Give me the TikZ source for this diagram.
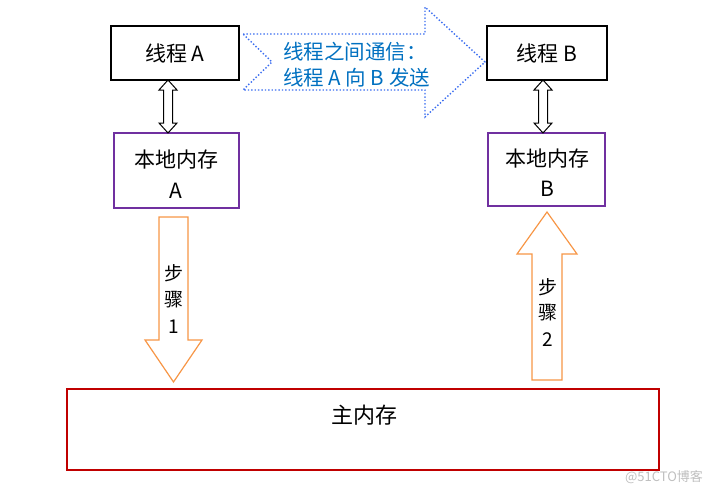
\documentclass[tikz,border=0pt]{standalone}
\usepackage{fontspec}
\setmainfont{Noto Sans CJK SC}
\newfontfamily\cjk{Noto Sans CJK SC}
\definecolor{boxpurple}{RGB}{112,48,160}
\definecolor{boxred}{RGB}{192,0,0}
\definecolor{arrorange}{RGB}{247,150,70}
\definecolor{txtblue}{RGB}{0,112,192}
\definecolor{dotblue}{RGB}{60,110,240}
\begin{document}
\begin{tikzpicture}[x=1pt,y=-1pt,
  threadbox/.style={draw=black,line width=1.2pt},
  localbox/.style={draw=boxpurple,line width=1.2pt},
  mainbox/.style={draw=boxred,line width=1.2pt},
  dblarrow/.style={draw=black,line width=1pt,fill=white},
  steparrow/.style={draw=arrorange,line width=1.2pt,fill=white},
  lbl/.style={font=\cjk\fontsize{21}{24}\selectfont,inner sep=0pt},
  bluelbl/.style={font=\cjk\fontsize{20.5}{24}\selectfont,inner sep=0pt,text=txtblue,anchor=west},
  steplbl/.style={font=\cjk\fontsize{19}{21}\selectfont,inner sep=0pt}]
\useasboundingbox (0,0) rectangle (723,495);

% boxes
\draw[threadbox] (111,26) rectangle (239,80);
\node[lbl] (tA) at (175,53) {线程 A};
\draw[threadbox] (487,26) rectangle (607,80);
\node[lbl] (tB) at (547,53) {线程 B};

\draw[localbox] (114,133) rectangle (239,208);
\node[lbl] (lA1) at (176,160) {本地内存};
\node[lbl] (lA2) at (176,191) {A};
\draw[localbox] (488,133) rectangle (605,206);
\node[lbl] (lB1) at (547,159) {本地内存};
\node[lbl] (lB2) at (547,189) {B};

\draw[mainbox] (67,389) rectangle (659,470);
\node[font=\cjk\fontsize{22}{24}\selectfont,inner sep=0pt] (mm) at (364,415) {主内存};

% double arrows
\foreach \cx in {168,543}{
  \draw[dblarrow] (\cx,80) -- (\cx+9,90) -- (\cx+4.5,90) -- (\cx+4.5,123) -- (\cx+9,123)
    -- (\cx,133) -- (\cx-9,123) -- (\cx-4.5,123) -- (\cx-4.5,90) -- (\cx-9,90) -- cycle;
}

% big dotted blue arrow
\draw[dotblue,line width=1.4pt,dotted] (243,34) -- (425,34) -- (425,7) -- (485,62)
  -- (425,117) -- (425,90) -- (243,90) -- (272,62) -- cycle;
\node[bluelbl] (c1) at (283,52) {线程之间通信：};
\node[bluelbl] (c2) at (283,78) {线程 A 向 B 发送};

% step arrows
\draw[steparrow] (159,217) -- (188,217) -- (188,340) -- (202,340) -- (173.5,382)
  -- (145,340) -- (159,340) -- cycle;
\node[steplbl] (s1a) at (174,273) {步};
\node[steplbl] (s1b) at (174,300) {骤};
\node[steplbl] (s1c) at (174,327) {1};

\draw[steparrow] (532,380) -- (562,380) -- (562,254) -- (577,254) -- (547,212)
  -- (517,254) -- (532,254) -- cycle;
\node[steplbl] (s2a) at (548,287) {步};
\node[steplbl] (s2b) at (548,313) {骤};
\node[steplbl] (s2c) at (548,340) {2};

% watermark
\node[font=\cjk\fontsize{13}{15}\selectfont,text=black!25,inner sep=0pt] (wm) at (664,477) {@51CTO博客};
\end{tikzpicture}
\end{document}
